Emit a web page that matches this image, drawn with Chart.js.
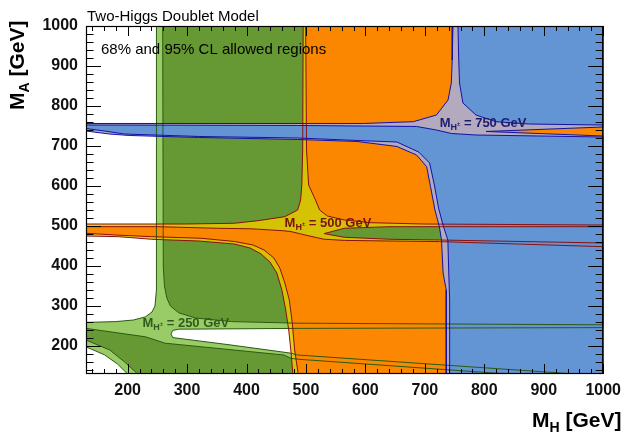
<!DOCTYPE html>
<html>
<head>
<meta charset="utf-8">
<script src="https://cdn.jsdelivr.net/npm/chart.js@4.4.1/dist/chart.umd.min.js"></script>
<style>
  html, body { margin: 0; padding: 0; background: #fff; }
</style>
</head>
<body>
<canvas id="chart" width="628" height="434"></canvas>
<script>
// Axis ticks (GeV)
const xTicks = [200, 300, 400, 500, 600, 700, 800, 900, 1000];
const yTicks = [200, 300, 400, 500, 600, 700, 800, 900, 1000];

// M_H+- = 250 GeV : 95% CL (outer) and 68% CL (two pieces)
const g95MH = [248.5, 1000, 1000, 486, 286, 276, 273, 276, 374, 475, 486, 953, 200, 183, 161, 130, 130, 180, 210, 230, 241, 246, 248.5];
const g95MA = [1000, 1000, 246, 244, 242, 239, 230, 221, 202.5, 182, 177.5, 130, 130, 155, 178, 198, 259, 261, 265, 273, 285, 300, 340];
const g68aMH = [259, 1000, 1000, 486, 375, 314, 286, 272, 266, 262, 260];
const g68aMA = [1000, 1000, 253, 257, 261, 270, 283, 300, 320, 350, 400];
const g68bMH = [130, 230, 263, 463, 475, 486, 820, 860, 217, 195, 170, 130];
const g68bMA = [244, 223, 207, 177.5, 169, 167, 132, 130, 130, 160, 190, 215];

// M_H+- = 500 GeV
const o95MH = [495.3, 494.5, 493, 491, 486, 464.5, 419.5, 379.5, 296, 130, 130, 184.5, 240.7, 319.5, 379.5, 406, 424.5, 439.5, 451, 459.5, 466, 471, 474.5, 478, 1000, 1000, 724.5, 641.5, 564.5, 530.5, 564.5, 641.5, 724.5, 1000, 1000];
const o95MA = [1000, 690, 602.5, 565, 540, 523.3, 513.3, 506.8, 505, 505, 475, 473.3, 466.8, 462.5, 455, 445, 430, 410, 382.5, 340, 290, 240, 190, 130, 130, 457.5, 465, 466.8, 471.8, 481, 494.3, 498.3, 498.3, 498.3, 1000];
const o68aMH = [499.5, 501, 504.5, 516, 523, 536, 564.5, 608, 698, 1000, 1000];
const o68aMA = [1000, 690, 602.5, 565, 540, 525, 515, 508.3, 505, 502.5, 1000];
const o68bMH = [130, 249.5, 351, 408, 419.5, 463, 475, 500, 530, 564.5, 641.5, 724.5, 1000, 1000, 487, 481, 477, 472, 464.5, 456, 446, 429.5, 411, 379.5, 324, 240.7, 179.5, 130];
const o68bMA = [498.3, 498.3, 494.3, 493, 492, 488, 486, 477, 467, 464, 462.5, 461, 448.3, 130, 130, 190, 257.5, 315, 357.5, 395, 420, 440, 452.5, 461.3, 469.3, 473.3, 477.5, 481.8];

// M_H+- = 750 GeV
const b95MH = [747.3, 746, 744.5, 739, 719.5, 680.7, 597, 130, 130, 169.5, 203, 319.5, 486, 586, 653, 686, 703, 709.5, 717, 724.5, 728, 730.7, 736, 736, 1000, 1000, 803, 1000, 1000];
const b95MA = [1000, 915, 857.5, 815, 777.5, 760.8, 756.3, 756.3, 737.5, 730, 726.3, 721.3, 716.3, 711.3, 698.8, 677.5, 648.3, 598.3, 540, 497.5, 465, 382.5, 340, 130, 130, 725, 736.3, 747.5, 1000];
const b68aMH = [755.7, 757, 758.3, 764, 786, 819.5, 874.5, 1000, 1000];
const b68aMA = [1000, 915, 857.5, 807.5, 777.5, 760.8, 755, 752.5, 1000];
const b68bMH = [130, 486, 686, 719.5, 744.5, 786, 1000, 1000, 741.7, 741.7, 740.3, 738.7, 731, 723, 716, 708, 689.5, 653, 586, 486, 319.5, 194.5, 161, 130];
const b68bMA = [752.5, 751.3, 748.8, 740, 731.3, 727.5, 722.5, 130, 130, 315, 377.5, 465, 500, 545, 602.5, 657.5, 685, 710, 713.8, 720, 723.8, 730, 737.5, 743.8];

// Contour labels: charged Higgs mass and where the label sits (MH, MA)
const labelMass = ['250', '500', '750'];
const labelMH = [225, 464, 725];
const labelMA = [248, 498, 747];

const FONT = '"Liberation Sans", Arial, Helvetica, sans-serif';

const GREEN_LINE = '#2b5a12';
const RED_LINE = '#8a1010';
const BLUE_LINE = '#1212a8';
const labelColors = ['#2f5c1c', '#7a1212', '#1c1c6e'];

// Fill layers, bottom to top
const regions = [
    { mh: g95MH, ma: g95MA, fill: '#99cc66', line: GREEN_LINE },
    { mh: g68aMH, ma: g68aMA, fill: '#669933', line: GREEN_LINE },
    { mh: g68bMH, ma: g68bMA, fill: '#669933', line: GREEN_LINE },
    { mh: o95MH, ma: o95MA, fill: 'rgba(225,198,0,0.9)', line: RED_LINE },
    { mh: o68aMH, ma: o68aMA, fill: 'rgba(255,128,0,0.9)', line: RED_LINE },
    { mh: o68bMH, ma: o68bMA, fill: 'rgba(255,128,0,0.9)', line: RED_LINE },
    { mh: b95MH, ma: b95MA, fill: '#b4aabe', line: BLUE_LINE },
    { mh: b68aMH, ma: b68aMA, fill: '#6394d4', line: BLUE_LINE },
    { mh: b68bMH, ma: b68bMA, fill: '#6394d4', line: BLUE_LINE }
];

// zip two arrays into a closed list of {x, y}
function polygon(xs, ys) {
    const pts = xs.map((x, i) => ({ x, y: ys[i] }));
    pts.push({ x: xs[0], y: ys[0] });
    return pts;
}

// all fills first, then all outlines on top of them
const layers = [];
regions.forEach(r => layers.push({
    data: polygon(r.mh, r.ma),
    backgroundColor: r.fill,
    borderColor: 'transparent',
    borderWidth: 0,
    fill: 'shape'
}));
regions.forEach(r => layers.push({
    data: polygon(r.mh, r.ma),
    borderColor: r.line,
    borderWidth: 1,
    fill: false
}));
const datasets = layers.map((d, i) => Object.assign({
    pointRadius: 0,
    tension: 0,
    order: layers.length - i
}, d));

// "M_H± = xxx GeV" with a proper subscript
function drawMassText(ctx, x, y, mass, color) {
    ctx.fillStyle = color;
    ctx.textBaseline = 'alphabetic';
    ctx.textAlign = 'left';
    ctx.font = 'bold 13px ' + FONT;
    ctx.fillText('M', x, y);
    let cx = x + ctx.measureText('M').width;
    ctx.font = 'bold 9px ' + FONT;
    ctx.fillText('H', cx, y + 3);
    cx += ctx.measureText('H').width;
    ctx.font = 'bold 6px ' + FONT;
    ctx.fillText('\u00b1', cx, y - 1);
    cx += ctx.measureText('\u00b1').width;
    ctx.font = 'bold 13px ' + FONT;
    ctx.fillText(' = ' + mass + ' GeV', cx, y);
}

// axis title with subscript, starting at (0, 0) of current transform
function drawAxisTitle(ctx, sub) {
    ctx.fillStyle = '#000';
    ctx.textBaseline = 'alphabetic';
    ctx.textAlign = 'left';
    ctx.font = 'bold 21px ' + FONT;
    ctx.fillText('M', 0, 0);
    let cx = ctx.measureText('M').width;
    ctx.font = 'bold 14px ' + FONT;
    ctx.fillText(sub, cx, 5);
    cx += ctx.measureText(sub).width;
    ctx.font = 'bold 21px ' + FONT;
    ctx.fillText(' [GeV]', cx, 0);
}

const decorations = {
    id: 'decorations',
    afterDatasetsDraw(chart) {
        const { ctx, chartArea: a, scales: { x, y } } = chart;
        ctx.save();

        labelMass.forEach((m, i) => {
            drawMassText(ctx, x.getPixelForValue(labelMH[i]), y.getPixelForValue(labelMA[i]), m, labelColors[i]);
        });

        // ROOT style ticks on all four sides, pointing inwards
        ctx.strokeStyle = '#000';
        ctx.lineWidth = 1;
        ctx.beginPath();
        for (let v = 140; v <= 1000; v += 20) {
            const px = Math.round(x.getPixelForValue(v)) + 0.5;
            const len = v % 100 === 0 ? 10 : 5;
            ctx.moveTo(px, a.bottom); ctx.lineTo(px, a.bottom - len);
            ctx.moveTo(px, a.top); ctx.lineTo(px, a.top + len);
        }
        for (let v = 140; v <= 1000; v += 20) {
            const py = Math.round(y.getPixelForValue(v)) + 0.5;
            const len = v % 100 === 0 ? 15 : 7.5;
            ctx.moveTo(a.left, py); ctx.lineTo(a.left + len, py);
            ctx.moveTo(a.right, py); ctx.lineTo(a.right - len, py);
        }
        ctx.stroke();
        ctx.lineWidth = 1.2;
        ctx.strokeRect(a.left + 0.5, a.top + 0.5, a.right - a.left - 1, a.bottom - a.top - 1);
        ctx.restore();
    },
    afterDraw(chart) {
        const { ctx, chartArea: a } = chart;
        ctx.save();
        ctx.fillStyle = '#000';
        ctx.textAlign = 'left';
        ctx.textBaseline = 'alphabetic';
        ctx.font = '15px ' + FONT;
        ctx.fillText('Two-Higgs Doublet Model', a.left + 1, 21);
        ctx.fillText('68% and 95% CL allowed regions', 101, 54);

        ctx.save();
        ctx.translate(532, 427);
        drawAxisTitle(ctx, 'H');
        ctx.restore();

        ctx.save();
        ctx.translate(24, 110);
        ctx.rotate(-Math.PI / 2);
        drawAxisTitle(ctx, 'A');
        ctx.restore();
        ctx.restore();
    }
};

function axisOptions(ticksList, isX) {
    return {
        type: 'linear',
        min: 130,
        max: 1000,
        afterBuildTicks: s => { s.ticks = ticksList.map(v => ({ value: v })); },
        afterFit: s => {
            if (isX) s.height = 60;
            else s.width = 86;
        },
        grid: { display: false, drawTicks: false },
        border: { display: false },
        ticks: {
            autoSkip: false,
            maxRotation: 0,
            padding: isX ? 7 : 8,
            color: '#111',
            font: { family: FONT, size: 16, weight: 'bold' },
            callback: v => String(v)
        }
    };
}

new Chart(document.getElementById('chart'), {
    type: 'line',
    data: { datasets },
    options: {
        responsive: false,
        animation: false,
        devicePixelRatio: 1,
        layout: { padding: { top: 26, right: 20, bottom: 0, left: 0 } },
        plugins: {
            legend: { display: false },
            tooltip: { enabled: false }
        },
        scales: {
            x: axisOptions(xTicks, true),
            y: axisOptions(yTicks, false)
        }
    },
    plugins: [decorations]
});
</script>
</body>
</html>
